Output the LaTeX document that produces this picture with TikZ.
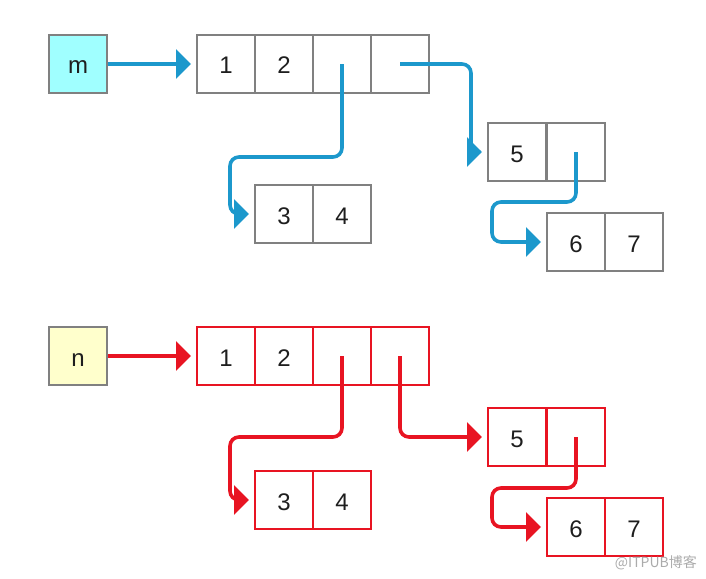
\documentclass[tikz,border=0pt]{standalone}
\usepackage{fontspec}
\setmainfont{Liberation Sans}
\newfontfamily\cjkfont{Noto Sans CJK SC}
\usetikzlibrary{arrows.meta}
\definecolor{lnblue}{RGB}{28,152,204}
\definecolor{lnred}{RGB}{232,20,34}
\definecolor{boxgray}{RGB}{128,128,128}
\definecolor{mfill}{RGB}{160,255,255}
\definecolor{nfill}{RGB}{255,255,204}
\definecolor{txt}{RGB}{30,30,30}
\tikzset{
  cell/.style={draw=boxgray, line width=2pt, minimum width=58pt, minimum height=58pt,
    inner sep=0pt, text=txt, text height=20pt, text depth=0pt,
    font=\fontsize{24}{28}\selectfont},
  redcell/.style={cell, draw=lnred},
  link/.style={line width=3.6pt, rounded corners=9pt,
    -{Triangle[length=15pt,width=29pt]}, shorten >=5pt},
  bluelink/.style={link, draw=lnblue, fill=none},
  redlink/.style={link, draw=lnred, fill=none}
}
\begin{document}
\begin{tikzpicture}[x=1pt,y=-1pt]
\useasboundingbox (0,0) rectangle (706,578);
% ---------- top (m) ----------
\node[cell, fill=mfill] (m) at (78,64) {m};
\node[cell] (ta1) at (226,64) {1};
\node[cell] (ta2) at (284,64) {2};
\node[cell] (ta3) at (342,64) {};
\node[cell] (ta4) at (400,64) {};
\node[cell] (tb1) at (284,214) {3};
\node[cell] (tb2) at (342,214) {4};
\node[cell] (tc1) at (517,152) {5};
\node[cell] (tc2) at (576,152) {};
\node[cell] (td1) at (576,242) {6};
\node[cell] (td2) at (634,242) {7};
\draw[bluelink] (m.east) -- (ta1.west);
\draw[bluelink] (ta3.center) |- (230,157) |- (tb1.west);
\draw[bluelink] (ta4.center) -| (471,152) -- (tc1.west);
\draw[bluelink] (tc2.center) |- (492,202) |- (td1.west);
% ---------- bottom (n) ----------
\node[cell, fill=nfill] (n) at (78,356) {n};
\node[redcell] (ba1) at (226,356) {1};
\node[redcell] (ba2) at (284,356) {2};
\node[redcell] (ba3) at (342,356) {};
\node[redcell] (ba4) at (400,356) {};
\node[redcell] (bb1) at (284,500) {3};
\node[redcell] (bb2) at (342,500) {4};
\node[redcell] (bc1) at (517,437) {5};
\node[redcell] (bc2) at (576,437) {};
\node[redcell] (bd1) at (576,527) {6};
\node[redcell] (bd2) at (634,527) {7};
\draw[redlink] (n.east) -- (ba1.west);
\draw[redlink] (ba3.center) |- (230,437) |- (bb1.west);
\draw[redlink] (ba4.center) |- (bc1.west);
\draw[redlink] (bc2.center) |- (492,488) |- (bd1.west);
% ---------- watermark ----------
\node[text=black!33, font=\cjkfont\fontsize{14}{16}\selectfont, inner sep=0pt, anchor=east] (wm) at (697,563) {@ITPUB博客};
\end{tikzpicture}
\end{document}
